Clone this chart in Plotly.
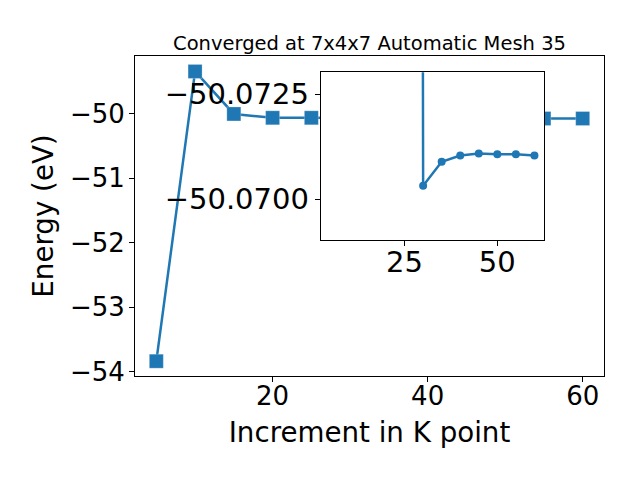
import plotly.graph_objects as go

# Main series: increment in K point vs total energy (eV)
k_points = [5, 10, 15, 20, 25, 30, 35, 40, 45, 50, 55, 60]
energy = [-53.84, -49.34, -50.00, -50.06, -50.06, -50.070, -50.071, -50.071,
          -50.071, -50.071, -50.071, -50.071]

# Inset (zoomed) series
inset_k = [25, 30, 35, 40, 45, 50, 55, 60]
inset_energy = [-50.30, -50.07032, -50.07089, -50.07104, -50.07109, -50.07107,
                -50.07107, -50.07104]

main_xticks = [20, 40, 60]
main_yticks = [-54, -53, -52, -51, -50]
inset_xticks = [25, 50]
inset_yticks = [-50.0725, -50.0700]

title_text = "Converged at 7x4x7 Automatic Mesh 35"
xlabel = "Increment in K point"
ylabel = "Energy (eV)"

color = "#1f77b4"
font = "DejaVu Sans"

fig = go.Figure()
fig.add_trace(go.Scatter(
    x=k_points, y=energy, mode="lines+markers",
    line=dict(color=color, width=2.5),
    marker=dict(symbol="square", size=14, color=color,
                line=dict(color="rgba(255,255,255,0.5)", width=0.5)),
    xaxis="x", yaxis="y", showlegend=False))
fig.add_trace(go.Scatter(
    x=inset_k, y=inset_energy, mode="lines+markers",
    line=dict(color=color, width=2.5),
    marker=dict(symbol="circle", size=8, color=color),
    xaxis="x2", yaxis="y2", showlegend=False))

axis_common = dict(showline=True, mirror=True, linecolor="black", linewidth=1,
                   ticks="outside", ticklen=5, tickwidth=1, tickcolor="black",
                   showgrid=False, zeroline=False, automargin=False)

# page body has an 8px margin, so the figure is sized/offset to compensate
fig.update_layout(
    width=632, height=464,
    margin=dict(l=127, r=36, t=48, b=96),
    paper_bgcolor="white", plot_bgcolor="white",
    font=dict(family=font, color="black"),
    title=dict(text=title_text, x=0.5, xanchor="center", xref="paper",
               y=1, yref="paper", yanchor="bottom", pad=dict(b=6),
               font=dict(size=19.5, family=font, color="black")),
    xaxis=dict(domain=[0, 1], range=[2.25, 62.75], tickvals=main_xticks,
               tickfont=dict(size=26), ticklabelstandoff=-8,
               title=dict(text=xlabel, font=dict(size=27.7), standoff=12),
               **axis_common),
    yaxis=dict(domain=[0, 1], range=[-54.07, -49.10], tickvals=main_yticks,
               tickfont=dict(size=26), ticklabelstandoff=-1,
               title=dict(text=ylabel, font=dict(size=27.7), standoff=8),
               **axis_common),
    xaxis2=dict(domain=[0.396, 0.873], anchor="y2", range=[2.4, 62.7],
                tickvals=inset_xticks, tickfont=dict(size=29), ticklabelstandoff=-9,
                **axis_common),
    yaxis2=dict(domain=[0.425, 0.949], anchor="x2", range=[-50.06903, -50.07302],
                tickvals=inset_yticks, tickformat=".4f", tickfont=dict(size=29),
                **axis_common),
)

fig.write_html("out.html")
